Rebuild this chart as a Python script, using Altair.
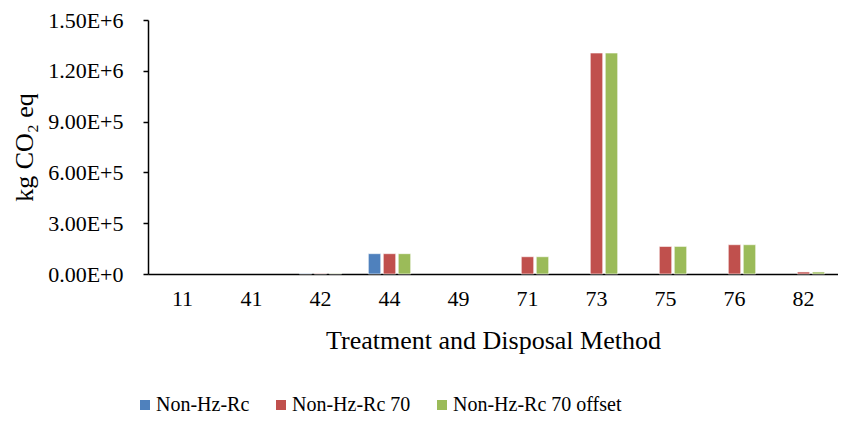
import altair as alt
import pandas as pd

categories = ["11", "41", "42", "44", "49", "71", "73", "75", "76", "82"]
series = ["Non-Hz-Rc", "Non-Hz-Rc 70", "Non-Hz-Rc 70 offset"]
non_hz_rc = [0, 0, 3000, 120000, 0, 0, 0, 0, 0, 0]
non_hz_rc_70 = [0, 0, 3000, 120000, 0, 102000, 1305000, 163000, 173000, 12000]
non_hz_rc_70_offset = [0, 0, 3000, 120000, 0, 102000, 1305000, 163000, 173000, 12000]
colors = ["#4F81BD", "#C0504D", "#9BBB59"]

rows = []
for name, vals in zip(series, [non_hz_rc, non_hz_rc_70, non_hz_rc_70_offset]):
    for c, v in zip(categories, vals):
        rows.append({"method": c, "series": name, "value": v})
df = pd.DataFrame(rows)

font = "Liberation Serif"

chart = alt.Chart(df).transform_filter("datum.value > 0").mark_bar(
    stroke="white", strokeWidth=0.6
).encode(
    x=alt.X("method:N", sort=categories,
            title="Treatment and Disposal Method",
            scale=alt.Scale(domain=categories, paddingInner=0.386, paddingOuter=0.193),
            axis=alt.Axis(labelAngle=0, ticks=False, labelPadding=14,
                          titlePadding=18, domainColor="black", domainWidth=1.5,
                          labelFontSize=22, titleFontSize=26)),
    xOffset=alt.XOffset("series:N", sort=series,
                        scale=alt.Scale(domain=series, paddingInner=0.17, paddingOuter=0)),
    y=alt.Y("value:Q", title="kg CO₂ eq",
            scale=alt.Scale(domain=[0, 1500000], nice=False),
            axis=alt.Axis(values=[0, 300000, 600000, 900000, 1200000, 1500000],
                          labelExpr="replace(format(datum.value, '.2e'), 'e', 'E')",
                          grid=False, tickSize=5, tickColor="black", tickWidth=1.5,
                          domainColor="black", domainWidth=1.5,
                          labelPadding=20, titlePadding=10,
                          labelFontSize=22, titleFontSize=26)),
    color=alt.Color("series:N", sort=series,
                    scale=alt.Scale(domain=series, range=colors),
                    legend=alt.Legend(title=None, orient="none", direction="horizontal",
                                      legendX=-13, legendY=375,
                                      symbolType="square", symbolSize=100,
                                      symbolStrokeWidth=0, labelFontSize=20,
                                      labelLimit=400,
                                      labelOffset=1, columnPadding=21, padding=0)),
).properties(
    width=690, height=254,
    autosize=alt.AutoSizeParams(type="none"),
    padding={"left": 140, "top": 12, "right": 0, "bottom": 140},
).configure_view(stroke=None).configure_axis(
    labelFont=font, titleFont=font, labelColor="black", titleColor="black",
    titleFontWeight="normal"
).configure_legend(labelFont=font, labelColor="black")

chart.save("out.html", embed_options={"renderer": "svg", "actions": False})
